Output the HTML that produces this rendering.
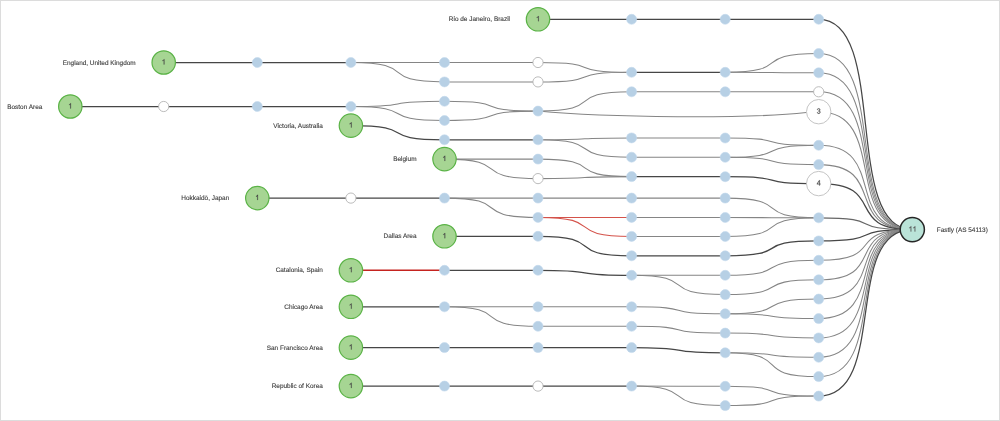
<!DOCTYPE html>
<html><head><meta charset="utf-8"><title>Path visualization</title>
<style>
html,body{margin:0;padding:0;background:#fff;}
#wrap{position:relative;width:1000px;height:421px;overflow:hidden;background:#fff;}
svg{will-change:transform;position:absolute;left:0;top:0;display:block;}
text{text-rendering:geometricPrecision;font-family:"Liberation Sans",sans-serif;font-size:6.45px;fill:#3c3c3c;stroke:#3c3c3c;stroke-width:0.12px;}
text.n{font-size:7.9px;fill:#383838;stroke:#383838;stroke-width:0.1px;}
#bd{position:absolute;left:0;top:0;width:998px;height:419px;border:1px solid #dcdcdc;pointer-events:none;}
</style></head><body>
<div id="wrap">
<svg width="1000" height="421" viewBox="0 0 1000 421">
<g transform="translate(0,0.3)">
<g fill="none">
<path d="M538.0,110.8C608,117.6 750,118.6 806.3,112.2" stroke="#858585" stroke-width="1.05"/>
<path d="M538.0,19.0L631.6,19.0" stroke="#464646" stroke-width="1.25"/>
<path d="M631.6,19.0L725.2,19.0" stroke="#464646" stroke-width="1.25"/>
<path d="M725.2,19.0L818.7,19.0" stroke="#464646" stroke-width="1.25"/>
<path d="M163.7,62.2L257.3,62.2" stroke="#464646" stroke-width="1.25"/>
<path d="M257.3,62.2L350.9,62.2" stroke="#464646" stroke-width="1.25"/>
<path d="M350.9,62.2L444.5,62.2" stroke="#858585" stroke-width="1.05"/>
<path d="M350.9,62.2C421.1,62.2 374.3,81.6 444.5,81.6" stroke="#858585" stroke-width="1.05"/>
<path d="M444.5,62.2L538.0,62.2" stroke="#858585" stroke-width="1.05"/>
<path d="M444.5,81.6L538.0,81.6" stroke="#858585" stroke-width="1.05"/>
<path d="M538.0,62.2C608.2,62.2 561.4,72.0 631.6,72.0" stroke="#858585" stroke-width="1.05"/>
<path d="M538.0,81.6C608.2,81.6 561.4,72.0 631.6,72.0" stroke="#858585" stroke-width="1.05"/>
<path d="M631.6,72.0L725.2,72.0" stroke="#464646" stroke-width="1.25"/>
<path d="M725.2,72.0C795.3,72.0 748.6,53.2 818.7,53.2" stroke="#858585" stroke-width="1.05"/>
<path d="M725.2,72.0C795.3,72.0 748.6,72.5 818.7,72.5" stroke="#858585" stroke-width="1.05"/>
<path d="M70.3,106.2L163.7,106.2" stroke="#464646" stroke-width="1.25"/>
<path d="M163.7,106.2L257.3,106.2" stroke="#464646" stroke-width="1.25"/>
<path d="M257.3,106.2L350.9,106.2" stroke="#464646" stroke-width="1.25"/>
<path d="M350.9,106.2C421.1,106.2 374.3,101.0 444.5,101.0" stroke="#858585" stroke-width="1.05"/>
<path d="M350.9,106.2C421.1,106.2 374.3,120.2 444.5,120.2" stroke="#858585" stroke-width="1.05"/>
<path d="M444.5,101.0C514.6,101.0 467.9,110.8 538.0,110.8" stroke="#858585" stroke-width="1.05"/>
<path d="M444.5,120.2C514.6,120.2 467.9,110.8 538.0,110.8" stroke="#858585" stroke-width="1.05"/>
<path d="M538.0,110.8C608.2,110.8 561.4,91.5 631.6,91.5" stroke="#858585" stroke-width="1.05"/>
<path d="M631.6,91.5L725.2,91.5" stroke="#858585" stroke-width="1.05"/>
<path d="M725.2,91.5L818.7,91.5" stroke="#858585" stroke-width="1.05"/>
<path d="M350.9,125.3C421.1,125.3 374.3,139.5 444.5,139.5" stroke="#464646" stroke-width="1.25"/>
<path d="M444.5,139.5L538.0,139.5" stroke="#464646" stroke-width="1.25"/>
<path d="M538.0,139.5C608.2,139.5 561.4,137.6 631.6,137.6" stroke="#858585" stroke-width="1.05"/>
<path d="M538.0,139.5C608.2,139.5 561.4,156.9 631.6,156.9" stroke="#858585" stroke-width="1.05"/>
<path d="M631.6,137.6C701.8,137.6 655.0,137.7 725.2,137.7" stroke="#858585" stroke-width="1.05"/>
<path d="M631.6,156.9C701.8,156.9 655.0,157.0 725.2,157.0" stroke="#858585" stroke-width="1.05"/>
<path d="M725.2,137.7C795.3,137.7 748.6,145.0 818.7,145.0" stroke="#858585" stroke-width="1.05"/>
<path d="M725.2,157.0C795.3,157.0 748.6,145.0 818.7,145.0" stroke="#858585" stroke-width="1.05"/>
<path d="M725.2,157.0C795.3,157.0 748.6,164.3 818.7,164.3" stroke="#858585" stroke-width="1.05"/>
<path d="M444.5,158.8L538.0,158.8" stroke="#858585" stroke-width="1.05"/>
<path d="M444.5,158.8C514.6,158.8 467.9,178.3 538.0,178.3" stroke="#858585" stroke-width="1.05"/>
<path d="M538.0,158.8C608.2,158.8 561.4,176.3 631.6,176.3" stroke="#858585" stroke-width="1.05"/>
<path d="M538.0,178.3C608.2,178.3 561.4,176.3 631.6,176.3" stroke="#858585" stroke-width="1.05"/>
<path d="M631.6,176.3C701.8,176.3 655.0,176.4 725.2,176.4" stroke="#464646" stroke-width="1.25"/>
<path d="M725.2,176.4C795.3,176.4 748.6,183.3 818.7,183.3" stroke="#464646" stroke-width="1.25"/>
<path d="M257.3,197.8L350.9,197.8" stroke="#464646" stroke-width="1.25"/>
<path d="M350.9,197.8L444.5,197.8" stroke="#464646" stroke-width="1.25"/>
<path d="M444.5,197.8L538.0,197.8" stroke="#858585" stroke-width="1.05"/>
<path d="M444.5,197.8C514.6,197.8 467.9,217.1 538.0,217.1" stroke="#858585" stroke-width="1.05"/>
<path d="M538.0,197.8L631.6,197.8" stroke="#858585" stroke-width="1.05"/>
<path d="M631.6,197.8L725.2,197.8" stroke="#858585" stroke-width="1.05"/>
<path d="M538.0,217.1L631.6,217.1" stroke="#d4524a" stroke-width="1.05"/>
<path d="M538.0,217.1C608.2,217.1 561.4,236.1 631.6,236.1" stroke="#d4524a" stroke-width="1.05"/>
<path d="M631.6,217.1C701.8,217.1 655.0,217.2 725.2,217.2" stroke="#858585" stroke-width="1.05"/>
<path d="M631.6,236.1C701.8,236.1 655.0,236.2 725.2,236.2" stroke="#858585" stroke-width="1.05"/>
<path d="M725.2,197.8C795.3,197.8 748.6,217.5 818.7,217.5" stroke="#858585" stroke-width="1.05"/>
<path d="M725.2,217.2C795.3,217.2 748.6,217.5 818.7,217.5" stroke="#858585" stroke-width="1.05"/>
<path d="M725.2,236.2C795.3,236.2 748.6,217.5 818.7,217.5" stroke="#858585" stroke-width="1.05"/>
<path d="M444.5,236.0L538.0,236.0" stroke="#464646" stroke-width="1.25"/>
<path d="M538.0,236.0C608.2,236.0 561.4,255.5 631.6,255.5" stroke="#464646" stroke-width="1.25"/>
<path d="M631.6,255.5L725.2,255.5" stroke="#464646" stroke-width="1.25"/>
<path d="M725.2,255.5C795.3,255.5 748.6,240.6 818.7,240.6" stroke="#464646" stroke-width="1.25"/>
<path d="M350.9,270.0L444.5,270.0" stroke="#c5231f" stroke-width="1.6"/>
<path d="M444.5,270.0L538.0,270.0" stroke="#464646" stroke-width="1.25"/>
<path d="M538.0,270.0C608.2,270.0 561.4,275.0 631.6,275.0" stroke="#464646" stroke-width="1.25"/>
<path d="M631.6,275.0L725.2,275.0" stroke="#858585" stroke-width="1.05"/>
<path d="M631.6,275.0C701.8,275.0 655.0,294.3 725.2,294.3" stroke="#858585" stroke-width="1.05"/>
<path d="M725.2,275.0C795.3,275.0 748.6,260.0 818.7,260.0" stroke="#858585" stroke-width="1.05"/>
<path d="M725.2,294.3C795.3,294.3 748.6,279.5 818.7,279.5" stroke="#858585" stroke-width="1.05"/>
<path d="M350.9,306.5L444.5,306.5" stroke="#464646" stroke-width="1.25"/>
<path d="M444.5,306.5L538.0,306.5" stroke="#858585" stroke-width="1.05"/>
<path d="M444.5,306.5C514.6,306.5 467.9,326.0 538.0,326.0" stroke="#858585" stroke-width="1.05"/>
<path d="M538.0,306.5L631.6,306.5" stroke="#858585" stroke-width="1.05"/>
<path d="M538.0,326.0L631.6,326.0" stroke="#858585" stroke-width="1.05"/>
<path d="M631.6,306.5C701.8,306.5 655.0,313.5 725.2,313.5" stroke="#858585" stroke-width="1.05"/>
<path d="M631.6,326.0C701.8,326.0 655.0,332.8 725.2,332.8" stroke="#858585" stroke-width="1.05"/>
<path d="M725.2,313.5C795.3,313.5 748.6,298.8 818.7,298.8" stroke="#858585" stroke-width="1.05"/>
<path d="M725.2,313.5C795.3,313.5 748.6,318.3 818.7,318.3" stroke="#858585" stroke-width="1.05"/>
<path d="M725.2,332.8C795.3,332.8 748.6,337.6 818.7,337.6" stroke="#858585" stroke-width="1.05"/>
<path d="M350.9,347.3L444.5,347.3" stroke="#464646" stroke-width="1.25"/>
<path d="M444.5,347.3L538.0,347.3" stroke="#464646" stroke-width="1.25"/>
<path d="M538.0,347.3L631.6,347.3" stroke="#464646" stroke-width="1.25"/>
<path d="M631.6,347.3C701.8,347.3 655.0,352.5 725.2,352.5" stroke="#464646" stroke-width="1.25"/>
<path d="M725.2,352.5C795.3,352.5 748.6,357.0 818.7,357.0" stroke="#858585" stroke-width="1.05"/>
<path d="M725.2,352.5C795.3,352.5 748.6,376.3 818.7,376.3" stroke="#858585" stroke-width="1.05"/>
<path d="M350.9,385.8L444.5,385.8" stroke="#464646" stroke-width="1.25"/>
<path d="M444.5,385.8L538.0,385.8" stroke="#464646" stroke-width="1.25"/>
<path d="M538.0,385.8L631.6,385.8" stroke="#464646" stroke-width="1.25"/>
<path d="M631.6,385.8C701.8,385.8 655.0,386.0 725.2,386.0" stroke="#858585" stroke-width="1.05"/>
<path d="M631.6,385.8C701.8,385.8 655.0,405.3 725.2,405.3" stroke="#858585" stroke-width="1.05"/>
<path d="M725.2,386.0C795.3,386.0 748.6,395.8 818.7,395.8" stroke="#858585" stroke-width="1.05"/>
<path d="M725.2,405.3C795.3,405.3 748.6,395.8 818.7,395.8" stroke="#858585" stroke-width="1.05"/>
<path d="M818.7,19.0C888.9,19.0 842.1,229.3 912.3,229.3" stroke="#464646" stroke-width="1.25"/>
<path d="M818.7,53.2C888.9,53.2 842.1,229.3 912.3,229.3" stroke="#858585" stroke-width="1.05"/>
<path d="M818.7,72.5C888.9,72.5 842.1,229.3 912.3,229.3" stroke="#858585" stroke-width="1.05"/>
<path d="M818.7,91.5C888.9,91.5 842.1,229.3 912.3,229.3" stroke="#858585" stroke-width="1.05"/>
<path d="M818.7,111.4C888.9,111.4 842.1,229.3 912.3,229.3" stroke="#858585" stroke-width="1.05"/>
<path d="M818.7,145.0C888.9,145.0 842.1,229.3 912.3,229.3" stroke="#858585" stroke-width="1.05"/>
<path d="M818.7,164.3C888.9,164.3 842.1,229.3 912.3,229.3" stroke="#858585" stroke-width="1.05"/>
<path d="M818.7,183.3C888.9,183.3 842.1,229.3 912.3,229.3" stroke="#464646" stroke-width="1.25"/>
<path d="M818.7,217.5C888.9,217.5 842.1,229.3 912.3,229.3" stroke="#666" stroke-width="1.2"/>
<path d="M818.7,240.6C888.9,240.6 842.1,229.3 912.3,229.3" stroke="#464646" stroke-width="1.25"/>
<path d="M818.7,260.0C888.9,260.0 842.1,229.3 912.3,229.3" stroke="#858585" stroke-width="1.05"/>
<path d="M818.7,279.5C888.9,279.5 842.1,229.3 912.3,229.3" stroke="#858585" stroke-width="1.05"/>
<path d="M818.7,298.8C888.9,298.8 842.1,229.3 912.3,229.3" stroke="#858585" stroke-width="1.05"/>
<path d="M818.7,318.3C888.9,318.3 842.1,229.3 912.3,229.3" stroke="#858585" stroke-width="1.05"/>
<path d="M818.7,337.6C888.9,337.6 842.1,229.3 912.3,229.3" stroke="#858585" stroke-width="1.05"/>
<path d="M818.7,357.0C888.9,357.0 842.1,229.3 912.3,229.3" stroke="#858585" stroke-width="1.05"/>
<path d="M818.7,376.3C888.9,376.3 842.1,229.3 912.3,229.3" stroke="#858585" stroke-width="1.05"/>
<path d="M818.7,395.8C888.9,395.8 842.1,229.3 912.3,229.3" stroke="#464646" stroke-width="1.25"/>
</g>
<g>
<circle cx="631.6" cy="19.0" r="5.0" fill="#b7d0e5" stroke="#c3d9ec" stroke-width="0.6"/>
<circle cx="725.2" cy="19.0" r="5.0" fill="#b7d0e5" stroke="#c3d9ec" stroke-width="0.6"/>
<circle cx="818.7" cy="19.0" r="5.0" fill="#b7d0e5" stroke="#c3d9ec" stroke-width="0.6"/>
<circle cx="257.3" cy="62.2" r="5.0" fill="#b7d0e5" stroke="#c3d9ec" stroke-width="0.6"/>
<circle cx="350.9" cy="62.2" r="5.0" fill="#b7d0e5" stroke="#c3d9ec" stroke-width="0.6"/>
<circle cx="444.5" cy="62.2" r="5.0" fill="#b7d0e5" stroke="#c3d9ec" stroke-width="0.6"/>
<circle cx="444.5" cy="81.6" r="5.0" fill="#b7d0e5" stroke="#c3d9ec" stroke-width="0.6"/>
<circle cx="538.0" cy="62.2" r="5.1" fill="#fff" stroke="#b0b0b0" stroke-width="0.85"/>
<circle cx="538.0" cy="81.6" r="5.1" fill="#fff" stroke="#b0b0b0" stroke-width="0.85"/>
<circle cx="631.6" cy="72.0" r="5.0" fill="#b7d0e5" stroke="#c3d9ec" stroke-width="0.6"/>
<circle cx="725.2" cy="72.0" r="5.0" fill="#b7d0e5" stroke="#c3d9ec" stroke-width="0.6"/>
<circle cx="818.7" cy="53.2" r="5.0" fill="#b7d0e5" stroke="#c3d9ec" stroke-width="0.6"/>
<circle cx="818.7" cy="72.5" r="5.0" fill="#b7d0e5" stroke="#c3d9ec" stroke-width="0.6"/>
<circle cx="163.7" cy="106.2" r="5.1" fill="#fff" stroke="#b0b0b0" stroke-width="0.85"/>
<circle cx="257.3" cy="106.2" r="5.0" fill="#b7d0e5" stroke="#c3d9ec" stroke-width="0.6"/>
<circle cx="350.9" cy="106.2" r="5.0" fill="#b7d0e5" stroke="#c3d9ec" stroke-width="0.6"/>
<circle cx="444.5" cy="101.0" r="5.0" fill="#b7d0e5" stroke="#c3d9ec" stroke-width="0.6"/>
<circle cx="444.5" cy="120.2" r="5.0" fill="#b7d0e5" stroke="#c3d9ec" stroke-width="0.6"/>
<circle cx="538.0" cy="110.8" r="5.0" fill="#b7d0e5" stroke="#c3d9ec" stroke-width="0.6"/>
<circle cx="631.6" cy="91.5" r="5.0" fill="#b7d0e5" stroke="#c3d9ec" stroke-width="0.6"/>
<circle cx="725.2" cy="91.5" r="5.0" fill="#b7d0e5" stroke="#c3d9ec" stroke-width="0.6"/>
<circle cx="818.7" cy="91.5" r="5.1" fill="#fff" stroke="#b0b0b0" stroke-width="0.85"/>
<circle cx="818.7" cy="111.4" r="12.2" fill="#fff" stroke="#bdbdbd" stroke-width="0.9"/>
<path transform="translate(816.70,113.28) scale(0.00352,-0.00360)" d="M1049 389Q1049 194 925.0 87.0Q801 -20 571 -20Q357 -20 229.5 76.5Q102 173 78 362L264 379Q300 129 571 129Q707 129 784.5 196.0Q862 263 862 395Q862 510 773.5 574.5Q685 639 518 639H416V795H514Q662 795 743.5 859.5Q825 924 825 1038Q825 1151 758.5 1216.5Q692 1282 561 1282Q442 1282 368.5 1221.0Q295 1160 283 1049L102 1063Q122 1236 245.5 1333.0Q369 1430 563 1430Q775 1430 892.5 1331.5Q1010 1233 1010 1057Q1010 922 934.5 837.5Q859 753 715 723V719Q873 702 961.0 613.0Q1049 524 1049 389Z" fill="#444" stroke="#444" stroke-width="55"/>
<circle cx="444.5" cy="139.5" r="5.0" fill="#b7d0e5" stroke="#c3d9ec" stroke-width="0.6"/>
<circle cx="538.0" cy="139.5" r="5.0" fill="#b7d0e5" stroke="#c3d9ec" stroke-width="0.6"/>
<circle cx="631.6" cy="137.6" r="5.0" fill="#b7d0e5" stroke="#c3d9ec" stroke-width="0.6"/>
<circle cx="631.6" cy="156.9" r="5.0" fill="#b7d0e5" stroke="#c3d9ec" stroke-width="0.6"/>
<circle cx="725.2" cy="137.7" r="5.0" fill="#b7d0e5" stroke="#c3d9ec" stroke-width="0.6"/>
<circle cx="725.2" cy="157.0" r="5.0" fill="#b7d0e5" stroke="#c3d9ec" stroke-width="0.6"/>
<circle cx="818.7" cy="145.0" r="5.0" fill="#b7d0e5" stroke="#c3d9ec" stroke-width="0.6"/>
<circle cx="818.7" cy="164.3" r="5.0" fill="#b7d0e5" stroke="#c3d9ec" stroke-width="0.6"/>
<circle cx="538.0" cy="158.8" r="5.0" fill="#b7d0e5" stroke="#c3d9ec" stroke-width="0.6"/>
<circle cx="538.0" cy="178.3" r="5.1" fill="#fff" stroke="#b0b0b0" stroke-width="0.85"/>
<circle cx="631.6" cy="176.3" r="5.0" fill="#b7d0e5" stroke="#c3d9ec" stroke-width="0.6"/>
<circle cx="725.2" cy="176.4" r="5.0" fill="#b7d0e5" stroke="#c3d9ec" stroke-width="0.6"/>
<circle cx="818.7" cy="183.3" r="12.2" fill="#fff" stroke="#bdbdbd" stroke-width="0.9"/>
<path transform="translate(816.70,185.18) scale(0.00352,-0.00366)" d="M881 319V0H711V319H47V459L692 1409H881V461H1079V319ZM711 1206Q709 1200 683.0 1153.0Q657 1106 644 1087L283 555L229 481L213 461H711Z" fill="#444" stroke="#444" stroke-width="55"/>
<circle cx="350.9" cy="197.8" r="5.1" fill="#fff" stroke="#b0b0b0" stroke-width="0.85"/>
<circle cx="444.5" cy="197.8" r="5.0" fill="#b7d0e5" stroke="#c3d9ec" stroke-width="0.6"/>
<circle cx="538.0" cy="197.8" r="5.0" fill="#b7d0e5" stroke="#c3d9ec" stroke-width="0.6"/>
<circle cx="538.0" cy="217.1" r="5.0" fill="#b7d0e5" stroke="#c3d9ec" stroke-width="0.6"/>
<circle cx="631.6" cy="197.8" r="5.0" fill="#b7d0e5" stroke="#c3d9ec" stroke-width="0.6"/>
<circle cx="725.2" cy="197.8" r="5.0" fill="#b7d0e5" stroke="#c3d9ec" stroke-width="0.6"/>
<circle cx="631.6" cy="217.1" r="5.0" fill="#b7d0e5" stroke="#c3d9ec" stroke-width="0.6"/>
<circle cx="631.6" cy="236.1" r="5.0" fill="#b7d0e5" stroke="#c3d9ec" stroke-width="0.6"/>
<circle cx="725.2" cy="217.2" r="5.0" fill="#b7d0e5" stroke="#c3d9ec" stroke-width="0.6"/>
<circle cx="725.2" cy="236.2" r="5.0" fill="#b7d0e5" stroke="#c3d9ec" stroke-width="0.6"/>
<circle cx="818.7" cy="217.5" r="5.0" fill="#b7d0e5" stroke="#c3d9ec" stroke-width="0.6"/>
<circle cx="538.0" cy="236.0" r="5.0" fill="#b7d0e5" stroke="#c3d9ec" stroke-width="0.6"/>
<circle cx="631.6" cy="255.5" r="5.0" fill="#b7d0e5" stroke="#c3d9ec" stroke-width="0.6"/>
<circle cx="725.2" cy="255.5" r="5.0" fill="#b7d0e5" stroke="#c3d9ec" stroke-width="0.6"/>
<circle cx="818.7" cy="240.6" r="5.0" fill="#b7d0e5" stroke="#c3d9ec" stroke-width="0.6"/>
<circle cx="444.5" cy="270.0" r="5.0" fill="#b7d0e5" stroke="#c3d9ec" stroke-width="0.6"/>
<circle cx="538.0" cy="270.0" r="5.0" fill="#b7d0e5" stroke="#c3d9ec" stroke-width="0.6"/>
<circle cx="631.6" cy="275.0" r="5.0" fill="#b7d0e5" stroke="#c3d9ec" stroke-width="0.6"/>
<circle cx="725.2" cy="275.0" r="5.0" fill="#b7d0e5" stroke="#c3d9ec" stroke-width="0.6"/>
<circle cx="725.2" cy="294.3" r="5.0" fill="#b7d0e5" stroke="#c3d9ec" stroke-width="0.6"/>
<circle cx="818.7" cy="260.0" r="5.0" fill="#b7d0e5" stroke="#c3d9ec" stroke-width="0.6"/>
<circle cx="818.7" cy="279.5" r="5.0" fill="#b7d0e5" stroke="#c3d9ec" stroke-width="0.6"/>
<circle cx="444.5" cy="306.5" r="5.0" fill="#b7d0e5" stroke="#c3d9ec" stroke-width="0.6"/>
<circle cx="538.0" cy="306.5" r="5.0" fill="#b7d0e5" stroke="#c3d9ec" stroke-width="0.6"/>
<circle cx="538.0" cy="326.0" r="5.0" fill="#b7d0e5" stroke="#c3d9ec" stroke-width="0.6"/>
<circle cx="631.6" cy="306.5" r="5.0" fill="#b7d0e5" stroke="#c3d9ec" stroke-width="0.6"/>
<circle cx="631.6" cy="326.0" r="5.0" fill="#b7d0e5" stroke="#c3d9ec" stroke-width="0.6"/>
<circle cx="725.2" cy="313.5" r="5.0" fill="#b7d0e5" stroke="#c3d9ec" stroke-width="0.6"/>
<circle cx="725.2" cy="332.8" r="5.0" fill="#b7d0e5" stroke="#c3d9ec" stroke-width="0.6"/>
<circle cx="818.7" cy="298.8" r="5.0" fill="#b7d0e5" stroke="#c3d9ec" stroke-width="0.6"/>
<circle cx="818.7" cy="318.3" r="5.0" fill="#b7d0e5" stroke="#c3d9ec" stroke-width="0.6"/>
<circle cx="818.7" cy="337.6" r="5.0" fill="#b7d0e5" stroke="#c3d9ec" stroke-width="0.6"/>
<circle cx="444.5" cy="347.3" r="5.0" fill="#b7d0e5" stroke="#c3d9ec" stroke-width="0.6"/>
<circle cx="538.0" cy="347.3" r="5.0" fill="#b7d0e5" stroke="#c3d9ec" stroke-width="0.6"/>
<circle cx="631.6" cy="347.3" r="5.0" fill="#b7d0e5" stroke="#c3d9ec" stroke-width="0.6"/>
<circle cx="725.2" cy="352.5" r="5.0" fill="#b7d0e5" stroke="#c3d9ec" stroke-width="0.6"/>
<circle cx="818.7" cy="357.0" r="5.0" fill="#b7d0e5" stroke="#c3d9ec" stroke-width="0.6"/>
<circle cx="818.7" cy="376.3" r="5.0" fill="#b7d0e5" stroke="#c3d9ec" stroke-width="0.6"/>
<circle cx="444.5" cy="385.8" r="5.0" fill="#b7d0e5" stroke="#c3d9ec" stroke-width="0.6"/>
<circle cx="538.0" cy="385.8" r="5.1" fill="#fff" stroke="#b0b0b0" stroke-width="0.85"/>
<circle cx="631.6" cy="385.8" r="5.0" fill="#b7d0e5" stroke="#c3d9ec" stroke-width="0.6"/>
<circle cx="725.2" cy="386.0" r="5.0" fill="#b7d0e5" stroke="#c3d9ec" stroke-width="0.6"/>
<circle cx="725.2" cy="405.3" r="5.0" fill="#b7d0e5" stroke="#c3d9ec" stroke-width="0.6"/>
<circle cx="818.7" cy="395.8" r="5.0" fill="#b7d0e5" stroke="#c3d9ec" stroke-width="0.6"/>
<circle cx="538.0" cy="19.0" r="11.7" fill="#a6d593" stroke="#5ab346" stroke-width="1.2"/>
<path transform="translate(536.00,20.88) scale(0.00352,-0.00352)" d="M763 0H583V1147Q518 1085 412.5 1023T223 930V1104Q373 1174 485 1274T644 1466H763Z" fill="#444" stroke="#444" stroke-width="55"/>
<text x="510.0" y="21.1" text-anchor="end" class="l">Rio de Janeiro, Brazil</text>
<circle cx="163.7" cy="62.2" r="11.7" fill="#a6d593" stroke="#5ab346" stroke-width="1.2"/>
<path transform="translate(161.70,64.08) scale(0.00352,-0.00352)" d="M763 0H583V1147Q518 1085 412.5 1023T223 930V1104Q373 1174 485 1274T644 1466H763Z" fill="#444" stroke="#444" stroke-width="55"/>
<text x="135.7" y="64.3" text-anchor="end" class="l">England, United Kingdom</text>
<circle cx="70.3" cy="106.2" r="11.7" fill="#a6d593" stroke="#5ab346" stroke-width="1.2"/>
<path transform="translate(68.30,108.08) scale(0.00352,-0.00352)" d="M763 0H583V1147Q518 1085 412.5 1023T223 930V1104Q373 1174 485 1274T644 1466H763Z" fill="#444" stroke="#444" stroke-width="55"/>
<text x="42.3" y="108.3" text-anchor="end" class="l">Boston Area</text>
<circle cx="350.9" cy="125.3" r="11.7" fill="#a6d593" stroke="#5ab346" stroke-width="1.2"/>
<path transform="translate(348.90,127.18) scale(0.00352,-0.00352)" d="M763 0H583V1147Q518 1085 412.5 1023T223 930V1104Q373 1174 485 1274T644 1466H763Z" fill="#444" stroke="#444" stroke-width="55"/>
<text x="322.9" y="127.4" text-anchor="end" class="l">Victoria, Australia</text>
<circle cx="444.5" cy="158.8" r="11.7" fill="#a6d593" stroke="#5ab346" stroke-width="1.2"/>
<path transform="translate(442.50,160.68) scale(0.00352,-0.00352)" d="M763 0H583V1147Q518 1085 412.5 1023T223 930V1104Q373 1174 485 1274T644 1466H763Z" fill="#444" stroke="#444" stroke-width="55"/>
<text x="416.5" y="160.9" text-anchor="end" class="l">Belgium</text>
<circle cx="257.3" cy="197.8" r="11.7" fill="#a6d593" stroke="#5ab346" stroke-width="1.2"/>
<path transform="translate(255.30,199.68) scale(0.00352,-0.00352)" d="M763 0H583V1147Q518 1085 412.5 1023T223 930V1104Q373 1174 485 1274T644 1466H763Z" fill="#444" stroke="#444" stroke-width="55"/>
<text x="229.3" y="199.9" text-anchor="end" class="l">Hokkaidō, Japan</text>
<circle cx="444.5" cy="236.0" r="11.7" fill="#a6d593" stroke="#5ab346" stroke-width="1.2"/>
<path transform="translate(442.50,237.88) scale(0.00352,-0.00352)" d="M763 0H583V1147Q518 1085 412.5 1023T223 930V1104Q373 1174 485 1274T644 1466H763Z" fill="#444" stroke="#444" stroke-width="55"/>
<text x="416.5" y="238.1" text-anchor="end" class="l">Dallas Area</text>
<circle cx="350.9" cy="270.0" r="11.7" fill="#a6d593" stroke="#5ab346" stroke-width="1.2"/>
<path transform="translate(348.90,271.88) scale(0.00352,-0.00352)" d="M763 0H583V1147Q518 1085 412.5 1023T223 930V1104Q373 1174 485 1274T644 1466H763Z" fill="#444" stroke="#444" stroke-width="55"/>
<text x="322.9" y="272.1" text-anchor="end" class="l">Catalonia, Spain</text>
<circle cx="350.9" cy="306.5" r="11.7" fill="#a6d593" stroke="#5ab346" stroke-width="1.2"/>
<path transform="translate(348.90,308.38) scale(0.00352,-0.00352)" d="M763 0H583V1147Q518 1085 412.5 1023T223 930V1104Q373 1174 485 1274T644 1466H763Z" fill="#444" stroke="#444" stroke-width="55"/>
<text x="322.9" y="308.6" text-anchor="end" class="l">Chicago Area</text>
<circle cx="350.9" cy="347.3" r="11.7" fill="#a6d593" stroke="#5ab346" stroke-width="1.2"/>
<path transform="translate(348.90,349.18) scale(0.00352,-0.00352)" d="M763 0H583V1147Q518 1085 412.5 1023T223 930V1104Q373 1174 485 1274T644 1466H763Z" fill="#444" stroke="#444" stroke-width="55"/>
<text x="322.9" y="349.4" text-anchor="end" class="l">San Francisco Area</text>
<circle cx="350.9" cy="385.8" r="11.7" fill="#a6d593" stroke="#5ab346" stroke-width="1.2"/>
<path transform="translate(348.90,387.68) scale(0.00352,-0.00352)" d="M763 0H583V1147Q518 1085 412.5 1023T223 930V1104Q373 1174 485 1274T644 1466H763Z" fill="#444" stroke="#444" stroke-width="55"/>
<text x="322.9" y="387.9" text-anchor="end" class="l">Republic of Korea</text>
<circle cx="912.3" cy="229.3" r="12.1" fill="#bae3d8" stroke="#262626" stroke-width="1.5"/>
<path transform="translate(908.60,231.18) scale(0.00352,-0.00352)" d="M763 0H583V1147Q518 1085 412.5 1023T223 930V1104Q373 1174 485 1274T644 1466H763Z" fill="#555" stroke="#555" stroke-width="55"/><path transform="translate(912.60,231.18) scale(0.00352,-0.00352)" d="M763 0H583V1147Q518 1085 412.5 1023T223 930V1104Q373 1174 485 1274T644 1466H763Z" fill="#555" stroke="#555" stroke-width="55"/>
<text x="936.8" y="231.4" text-anchor="start" class="l">Fastly (AS 54113)</text>
</g>
</g>
</svg>
<div id="bd"></div>
</div>
</body></html>
